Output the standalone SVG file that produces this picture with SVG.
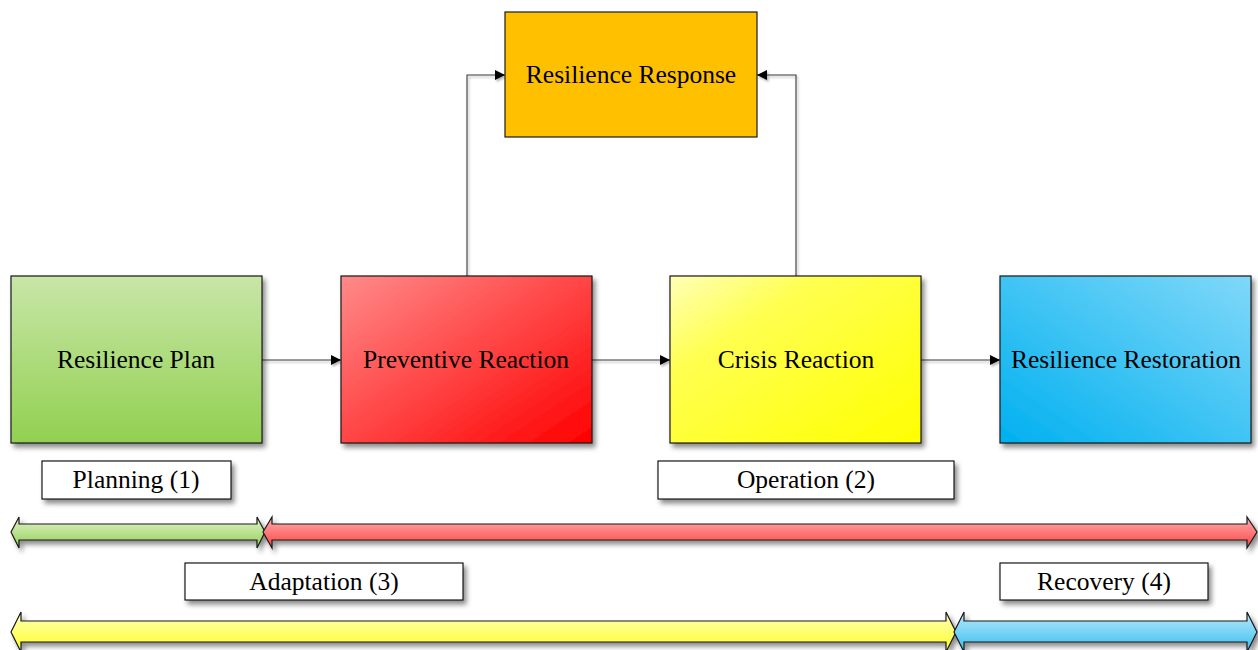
<svg xmlns="http://www.w3.org/2000/svg" width="1258" height="650" viewBox="0 0 1258 650">
<style>
  .t { font-size: 25.5px; fill: #000; text-anchor: middle; }
  .node { stroke: #1a1a1a; stroke-width: 1.2; }
  .lbl { fill: #fff; stroke: #1a1a1a; stroke-width: 1.2; }
  .conn { fill: none; stroke: #3a3a3a; stroke-width: 1.1; }
  .band { stroke: #1a1a1a; stroke-width: 1.2; }
</style>
<defs>
  <filter id="sh" x="-10%" y="-10%" width="130%" height="140%">
    <feDropShadow dx="3" dy="4" stdDeviation="2.5" flood-color="#000" flood-opacity="0.45"/>
  </filter>
  <filter id="shl" x="-10%" y="-50%" width="130%" height="200%">
    <feDropShadow dx="1.5" dy="2" stdDeviation="1.2" flood-color="#000" flood-opacity="0.3"/>
  </filter>
  <linearGradient id="gGreen" x1="0" y1="0" x2="0" y2="1">
    <stop offset="0" stop-color="#C8E6A8"/>
    <stop offset="1" stop-color="#92D050"/>
  </linearGradient>
  <linearGradient id="gRed" x1="0" y1="0" x2="1" y2="1">
    <stop offset="0" stop-color="#FF8A8A"/>
    <stop offset="1" stop-color="#FF0000"/>
  </linearGradient>
  <linearGradient id="gYellow" x1="0" y1="0" x2="1" y2="1">
    <stop offset="0" stop-color="#FFFFB8"/>
    <stop offset="0.3" stop-color="#FFFF50"/>
    <stop offset="1" stop-color="#FFFF00"/>
  </linearGradient>
  <linearGradient id="gBlue" x1="0" y1="1" x2="1" y2="0">
    <stop offset="0" stop-color="#00B0F0"/>
    <stop offset="1" stop-color="#80D8F8"/>
  </linearGradient>
  <linearGradient id="bGreen" x1="0" y1="0" x2="0" y2="1">
    <stop offset="0" stop-color="#E2F2CE"/>
    <stop offset="1" stop-color="#92D050"/>
  </linearGradient>
  <linearGradient id="bRed" x1="0" y1="0" x2="0" y2="1">
    <stop offset="0" stop-color="#FFB0B0"/>
    <stop offset="1" stop-color="#FF4040"/>
  </linearGradient>
  <linearGradient id="bYellow" x1="0" y1="0" x2="0" y2="1">
    <stop offset="0" stop-color="#FFFFC0"/>
    <stop offset="1" stop-color="#FFFF20"/>
  </linearGradient>
  <linearGradient id="bBlue" x1="0" y1="0" x2="0" y2="1">
    <stop offset="0" stop-color="#B8EAFB"/>
    <stop offset="1" stop-color="#38BDF0"/>
  </linearGradient>
  <marker id="ah" viewBox="0 0 10 10" refX="10" refY="5" markerWidth="10" markerHeight="10" markerUnits="userSpaceOnUse" orient="auto">
    <path d="M0,0 L10,5 L0,10 z" fill="#000"/>
  </marker>
</defs>

<g id="connectors" filter="url(#shl)">
  <line class="conn" x1="262" y1="360" x2="341" y2="360" marker-end="url(#ah)"/>
  <line class="conn" x1="592" y1="360" x2="670" y2="360" marker-end="url(#ah)"/>
  <line class="conn" x1="921" y1="360" x2="1000" y2="360" marker-end="url(#ah)"/>
  <polyline class="conn" points="467,276 467,75 505,75" marker-end="url(#ah)"/>
  <polyline class="conn" points="796,276 796,75 757,75" marker-end="url(#ah)"/>
</g>

<g font-family="'Liberation Serif', 'Times New Roman', 'DejaVu Serif', serif">
<g id="node-response">
  <rect class="node" x="505" y="12" width="252" height="125" fill="#FFC000"/>
  <text class="t" x="631" y="83">Resilience Response</text>
</g>
<g id="node-plan">
  <rect class="node" x="11" y="276" width="251" height="167" fill="url(#gGreen)" filter="url(#sh)"/>
  <text class="t" x="136" y="368">Resilience Plan</text>
</g>
<g id="node-preventive">
  <rect class="node" x="341" y="276" width="251" height="167" fill="url(#gRed)" filter="url(#sh)"/>
  <text class="t" x="466" y="368">Preventive Reaction</text>
</g>
<g id="node-crisis">
  <rect class="node" x="670" y="276" width="251" height="167" fill="url(#gYellow)" filter="url(#sh)"/>
  <text class="t" x="796" y="368">Crisis Reaction</text>
</g>
<g id="node-restoration">
  <rect class="node" x="1000" y="276" width="251" height="167" fill="url(#gBlue)" filter="url(#sh)"/>
  <text class="t" x="1126" y="368">Resilience Restoration</text>
</g>

<g id="label-planning">
  <rect class="lbl" x="42" y="461" width="189" height="38" filter="url(#sh)"/>
  <text class="t" x="136" y="488">Planning (1)</text>
</g>
<g id="label-operation">
  <rect class="lbl" x="658" y="461" width="296" height="38" filter="url(#sh)"/>
  <text class="t" x="806" y="488">Operation (2)</text>
</g>
<g id="label-adaptation">
  <rect class="lbl" x="185" y="563" width="278" height="37" filter="url(#sh)"/>
  <text class="t" x="324" y="590">Adaptation (3)</text>
</g>
<g id="label-recovery">
  <rect class="lbl" x="1000" y="563" width="208" height="37" filter="url(#sh)"/>
  <text class="t" x="1104" y="590">Recovery (4)</text>
</g>
</g>

<g id="band-planning">
  <path class="band" fill="url(#bGreen)" filter="url(#sh)" d="M11,532 L19,517 L19,524 L257,524 L257,517 L265,532 L257,548 L257,540 L19,540 L19,548 Z"/>
</g>
<g id="band-operation">
  <path class="band" fill="url(#bRed)" filter="url(#sh)" d="M263,532 L272,517 L272,524 L1247,524 L1247,517 L1257,532 L1247,548 L1247,540 L272,540 L272,548 Z"/>
</g>
<g id="band-adaptation">
  <path class="band" fill="url(#bYellow)" filter="url(#sh)" d="M11,632 L21,612 L21,621 L946,621 L946,612 L956,632 L946,652 L946,642 L21,642 L21,652 Z"/>
</g>
<g id="band-recovery">
  <path class="band" fill="url(#bBlue)" filter="url(#sh)" d="M954,632 L964,612 L964,621 L1247,621 L1247,612 L1257,632 L1247,652 L1247,642 L964,642 L964,652 Z"/>
</g>
</svg>
